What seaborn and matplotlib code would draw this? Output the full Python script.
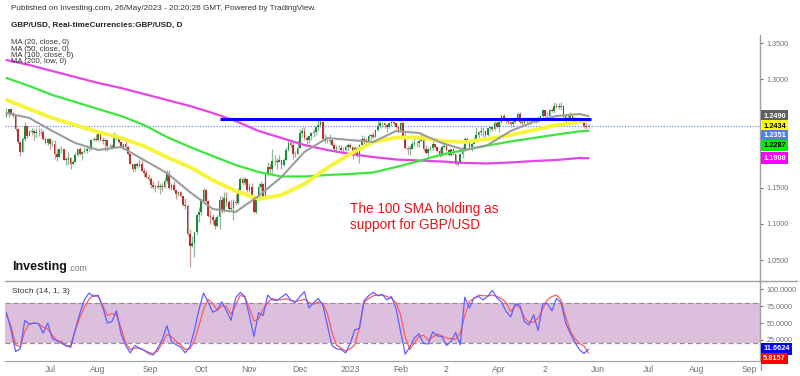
import numpy as np
import pandas as pd
import matplotlib
matplotlib.use('Agg')
import matplotlib.pyplot as plt
import seaborn as sns

# --- data (GBP/USD daily, 06/Jun/2022 - 26/May/2023) ---
first_open = 1.2490
closes = [
    # Jun 2022
    1.2530, 1.2585, 1.2535, 1.2490, 1.2310, 1.2130, 1.2000, 1.2180, 1.2350, 1.2220,
    1.2265, 1.2280, 1.2260, 1.2275, 1.2265, 1.2270, 1.2175, 1.2120, 1.2175,
    # Jul
    1.2100, 1.2110, 1.1960, 1.1930, 1.2030, 1.2030, 1.1890, 1.1890, 1.1915, 1.1825,
    1.1860, 1.1955, 1.2030, 1.1970, 1.1990, 1.2005, 1.2030, 1.2030, 1.2165, 1.2180, 1.2165,
    # Aug
    1.2245, 1.2165, 1.2150, 1.2155, 1.2075, 1.2080, 1.2070, 1.2210, 1.2210, 1.2130,
    1.2055, 1.2100, 1.2065, 1.1960, 1.1830, 1.1765, 1.1830, 1.1800, 1.1830, 1.1735,
    1.1700, 1.1650, 1.1620,
    # Sep
    1.1540, 1.1510, 1.1525, 1.1515, 1.1530, 1.1505, 1.1590, 1.1685, 1.1500, 1.1540,
    1.1470, 1.1420, 1.1440, 1.1380, 1.1265, 1.1255, 1.0860, 1.0690, 1.0735, 1.0885,
    1.1120, 1.1170,
    # Oct
    1.1320, 1.1470, 1.1320, 1.1105, 1.1090, 1.1060, 1.0970, 1.1095, 1.1330, 1.1175,
    1.1360, 1.1310, 1.1205, 1.1225, 1.1310, 1.1285, 1.1475, 1.1620, 1.1570, 1.1615, 1.1465,
    # Nov
    1.1510, 1.1390, 1.1160, 1.1380, 1.1510, 1.1550, 1.1350, 1.1710, 1.1790, 1.1760,
    1.1865, 1.1870, 1.1860, 1.1890, 1.1820, 1.1890, 1.2025, 1.2115, 1.2090, 1.1960,
    1.1965, 1.2050,
    # Dec
    1.2250, 1.2285, 1.2190, 1.2160, 1.2210, 1.2250, 1.2265, 1.2340, 1.2370, 1.2415,
    1.2180, 1.2140, 1.2150, 1.2155, 1.2090, 1.2040, 1.2050, 1.2055, 1.2020, 1.2025,
    1.2060, 1.2095,
    # Jan 2023
    1.2060, 1.1970, 1.2055, 1.1935, 1.2090, 1.2180, 1.2155, 1.2150, 1.2220, 1.2230,
    1.2200, 1.2300, 1.2350, 1.2390, 1.2395, 1.2370, 1.2340, 1.2400, 1.2405, 1.2395,
    1.2340, 1.2305,
    # Feb
    1.2390, 1.2220, 1.2050, 1.2040, 1.2040, 1.2100, 1.2120, 1.2115, 1.2150, 1.2175,
    1.2040, 1.1980, 1.2030, 1.2050, 1.2100, 1.2060, 1.2010, 1.1945, 1.2060, 1.2080,
    # Mar
    1.2020, 1.1950, 1.2030, 1.1960, 1.1830, 1.1840, 1.1960, 1.2030, 1.2170, 1.2150,
    1.2060, 1.2110, 1.2175, 1.2230, 1.2270, 1.2280, 1.2280, 1.2230, 1.2320, 1.2335,
    1.2310, 1.2390, 1.2335,
    # Apr
    1.2410, 1.2495, 1.2460, 1.2440, 1.2410, 1.2380, 1.2415, 1.2460, 1.2520, 1.2410,
    1.2390, 1.2430, 1.2450, 1.2440, 1.2440, 1.2470, 1.2420, 1.2465, 1.2490, 1.2570,
    # May
    1.2490, 1.2490, 1.2570, 1.2565, 1.2630, 1.2620, 1.2620, 1.2630, 1.2485, 1.2455,
    1.2470, 1.2490, 1.2435, 1.2420, 1.2445, 1.2420, 1.2410, 1.2360, 1.2345, 1.2351,
]
highs = [
    1.2600, 1.2595, 1.2600, 1.2550, 1.2500, 1.2330, 1.2130, 1.2200, 1.2405, 1.2360,
    1.2300, 1.2325, 1.2315, 1.2325, 1.2325, 1.2330, 1.2295, 1.2195, 1.2190,
    1.2190, 1.2160, 1.2165, 1.2030, 1.2050, 1.2080, 1.2030, 1.1925, 1.2000, 1.1930,
    1.1880, 1.1990, 1.2040, 1.2060, 1.2010, 1.2060, 1.2065, 1.2070, 1.2180, 1.2200, 1.2245,
    1.2290, 1.2250, 1.2200, 1.2190, 1.2165, 1.2115, 1.2110, 1.2275, 1.2240, 1.2215,
    1.2120, 1.2125, 1.2145, 1.2075, 1.1965, 1.1825, 1.1840, 1.1850, 1.1900, 1.1900,
    1.1780, 1.1750, 1.1690,
    1.1645, 1.1600, 1.1545, 1.1610, 1.1560, 1.1560, 1.1650, 1.1740, 1.1740, 1.1565,
    1.1590, 1.1475, 1.1460, 1.1460, 1.1390, 1.1355, 1.1275, 1.0935, 1.0830, 1.0890,
    1.1140, 1.1240,
    1.1365, 1.1495, 1.1490, 1.1335, 1.1200, 1.1140, 1.1100, 1.1130, 1.1380, 1.1380,
    1.1440, 1.1440, 1.1335, 1.1335, 1.1340, 1.1410, 1.1500, 1.1645, 1.1645, 1.1650, 1.1620,
    1.1560, 1.1565, 1.1400, 1.1390, 1.1565, 1.1600, 1.1560, 1.1725, 1.1855, 1.1840,
    1.2030, 1.1950, 1.1910, 1.1950, 1.1890, 1.1905, 1.2060, 1.2155, 1.2150, 1.2130,
    1.2010, 1.2155,
    1.2310, 1.2345, 1.2345, 1.2210, 1.2230, 1.2275, 1.2315, 1.2345, 1.2445, 1.2446,
    1.2425, 1.2240, 1.2195, 1.2240, 1.2160, 1.2115, 1.2090, 1.2085, 1.2090, 1.2070,
    1.2090, 1.2125,
    1.2125, 1.2080, 1.2080, 1.2070, 1.2110, 1.2230, 1.2210, 1.2190, 1.2245, 1.2245,
    1.2265, 1.2310, 1.2435, 1.2420, 1.2405, 1.2400, 1.2385, 1.2410, 1.2420, 1.2415,
    1.2395, 1.2350,
    1.2420, 1.2410, 1.2265, 1.2075, 1.2090, 1.2150, 1.2195, 1.2145, 1.2165, 1.2270,
    1.2180, 1.2085, 1.2045, 1.2075, 1.2145, 1.2110, 1.2075, 1.2045, 1.2095, 1.2145,
    1.2100, 1.2035, 1.2040, 1.2040, 1.1960, 1.1865, 1.1975, 1.2075, 1.2205, 1.2205,
    1.2165, 1.2120, 1.2200, 1.2345, 1.2290, 1.2345, 1.2345, 1.2290, 1.2330, 1.2345,
    1.2345, 1.2420, 1.2425,
    1.2425, 1.2525, 1.2525, 1.2475, 1.2440, 1.2420, 1.2430, 1.2475, 1.2545, 1.2545,
    1.2445, 1.2475, 1.2475, 1.2470, 1.2475, 1.2475, 1.2480, 1.2485, 1.2500, 1.2585,
    1.2580, 1.2545, 1.2590, 1.2600, 1.2680, 1.2665, 1.2665, 1.2680, 1.2640, 1.2495,
    1.2510, 1.2545, 1.2490, 1.2475, 1.2470, 1.2470, 1.2445, 1.2405, 1.2390, 1.2375,
]
lows = [
    1.2480, 1.2475, 1.2505, 1.2470, 1.2290, 1.2100, 1.1935, 1.1990, 1.2140, 1.2185,
    1.2210, 1.2235, 1.2160, 1.2200, 1.2215, 1.2230, 1.2160, 1.2100, 1.2090,
    1.2030, 1.2080, 1.1900, 1.1875, 1.1930, 1.1980, 1.1880, 1.1810, 1.1820, 1.1760,
    1.1825, 1.1860, 1.1940, 1.1950, 1.1890, 1.1985, 1.1975, 1.2005, 1.2020, 1.2140, 1.2140,
    1.2150, 1.2140, 1.2100, 1.2005, 1.2005, 1.2060, 1.2045, 1.2060, 1.2160, 1.2115,
    1.2045, 1.2030, 1.2050, 1.1950, 1.1825, 1.1720, 1.1730, 1.1780, 1.1790, 1.1730,
    1.1650, 1.1640, 1.1600,
    1.1500, 1.1490, 1.1445, 1.1490, 1.1410, 1.1460, 1.1500, 1.1570, 1.1490, 1.1465,
    1.1460, 1.1350, 1.1380, 1.1370, 1.1255, 1.1210, 1.0840, 1.0400, 1.0680, 1.0540,
    1.0850, 1.1030,
    1.1120, 1.1290, 1.1300, 1.1100, 1.1000, 1.1000, 1.0925, 1.0960, 1.0925, 1.1150,
    1.1160, 1.1250, 1.1195, 1.1200, 1.1060, 1.1260, 1.1275, 1.1465, 1.1540, 1.1540, 1.1440,
    1.1440, 1.1375, 1.1150, 1.1145, 1.1330, 1.1460, 1.1340, 1.1340, 1.1660, 1.1710,
    1.1700, 1.1820, 1.1765, 1.1850, 1.1765, 1.1800, 1.1880, 1.2010, 1.2070, 1.1900,
    1.1925, 1.1960,
    1.2045, 1.2200, 1.2155, 1.2105, 1.2125, 1.2160, 1.2200, 1.2225, 1.2290, 1.2345,
    1.2160, 1.2115, 1.2125, 1.2110, 1.2080, 1.2015, 1.2000, 1.2040, 1.2010, 1.1990,
    1.2005, 1.2015,
    1.2040, 1.1900, 1.1990, 1.1925, 1.1840, 1.2085, 1.2110, 1.2100, 1.2125, 1.2180,
    1.2185, 1.2195, 1.2280, 1.2320, 1.2345, 1.2325, 1.2265, 1.2325, 1.2360, 1.2370,
    1.2325, 1.2260,
    1.2285, 1.2215, 1.2035, 1.1960, 1.1955, 1.2030, 1.2075, 1.2070, 1.2065, 1.2145,
    1.2015, 1.1970, 1.1915, 1.2015, 1.2020, 1.2050, 1.1995, 1.1925, 1.1935, 1.2050,
    1.2005, 1.1935, 1.1940, 1.1950, 1.1820, 1.1800, 1.1835, 1.1910, 1.2010, 1.2130,
    1.2035, 1.2010, 1.2100, 1.2210, 1.2190, 1.2230, 1.2195, 1.2205, 1.2210, 1.2285,
    1.2285, 1.2300, 1.2325,
    1.2275, 1.2390, 1.2435, 1.2395, 1.2380, 1.2345, 1.2345, 1.2400, 1.2450, 1.2380,
    1.2345, 1.2385, 1.2400, 1.2400, 1.2380, 1.2420, 1.2395, 1.2410, 1.2430, 1.2465,
    1.2470, 1.2440, 1.2475, 1.2545, 1.2540, 1.2600, 1.2590, 1.2590, 1.2465, 1.2390,
    1.2440, 1.2445, 1.2420, 1.2390, 1.2395, 1.2415, 1.2395, 1.2320, 1.2310, 1.2325,
]

# moving averages, read every 10 sessions (last point = 26/May)
ma_sessions = list(range(0, 251, 10)) + [254]
ma20 = [1.2533, 1.2464, 1.2285, 1.2119, 1.2022, 1.2064, 1.1884, 1.1704, 1.1442, 1.1207,
        1.1166, 1.1387, 1.1649, 1.1995, 1.2188, 1.2160, 1.2133, 1.2285, 1.2257, 1.2119,
        1.2022, 1.2091, 1.2285, 1.2409, 1.2492, 1.2519, 1.2490]
ma50 = [1.2713, 1.2588, 1.2464, 1.2367, 1.2271, 1.2188, 1.2077, 1.1925, 1.1787, 1.1608,
        1.1456, 1.1345, 1.1401, 1.1553, 1.1774, 1.1967, 1.2133, 1.2195, 1.2195, 1.2146,
        1.2133, 1.2174, 1.2229, 1.2298, 1.2367, 1.2409, 1.2434]
ma100 = [1.3017, 1.2906, 1.2782, 1.2685, 1.2588, 1.2492, 1.2367, 1.2202, 1.2064, 1.1939,
         1.1815, 1.1718, 1.1656, 1.1656, 1.1677, 1.1691, 1.1711, 1.1787, 1.1870, 1.1960,
         1.2022, 1.2084, 1.2140, 1.2188, 1.2236, 1.2280, 1.2287]
ma200_low = [1.3265, 1.3196, 1.3113, 1.3030, 1.2948, 1.2878, 1.2796, 1.2713, 1.2630, 1.2533,
             1.2423, 1.2285, 1.2188, 1.2091, 1.2022, 1.1967, 1.1925, 1.1891, 1.1877, 1.1863,
             1.1843, 1.1836, 1.1850, 1.1870, 1.1884, 1.1912, 1.1908]

# stochastic (14, 1, 3), read every 2 sessions
stoch_sessions = list(range(0, 255, 2))
stoch_k = [65, 40, 8, 12, 54, 48, 50, 49, 35, 50,
           27, 24, 20, 17, 14, 40, 64, 84, 94, 89,
           91, 73, 50, 52, 68, 34, 17, 6, 17, 13,
           10, 5, 3, 13, 26, 46, 23, 18, 15, 6,
           15, 39, 70, 94, 81, 66, 69, 81, 68, 54,
           87, 95, 89, 61, 30, 65, 61, 91, 84, 83,
           88, 93, 84,
           80, 89, 96, 72, 80, 86, 77, 47, 17, 12,
           11, 6, 20, 40, 42, 83, 90, 95, 90, 92,
           84, 89, 71, 37, 4, 15, 28, 34, 20, 19,
           37, 31, 30, 17, 23, 36, 18, 88, 72, 87,
           89, 84, 89, 98, 87, 81, 67, 59, 78, 76,
           52, 47, 62, 39, 78, 79, 68, 86, 80, 50,
           35, 22, 11, 5, 11.6624]
stoch_d = [62, 45, 18, 15, 38, 49, 50, 49, 44, 41,
           32, 24, 23, 16, 17, 39, 58, 73, 85, 91,
           89, 76, 61, 64, 61, 43, 21, 11, 13, 13,
           10, 7, 5, 9, 21, 33, 30, 23, 18, 11,
           12, 24, 46, 70, 85, 79, 69, 75, 74, 63,
           76, 91, 88, 72, 53, 56, 70, 80, 86, 84,
           84, 86, 83,
           82, 83, 85, 80, 78, 81, 79, 64, 37, 18,
           13, 9, 12, 18, 43, 80, 86, 90, 91, 91,
           89, 86, 80, 62, 29, 11, 21, 30, 32, 25,
           29, 34, 31, 28, 27, 26, 35, 61, 82, 86,
           91, 90, 90, 91, 89, 86, 80, 67, 76, 73,
           58, 51, 51, 57, 71, 84, 89, 91, 84, 59,
           39, 27, 20, 16, 5.8157]

resistance = 1.2455
resistance_from, resistance_to = '2022-10-13', '2023-05-29'
price_ticks = [1.05, 1.10, 1.15, 1.20, 1.25, 1.30, 1.35]
hidden_ticks = [1.20, 1.25]   # covered by the value boxes on the original
stoch_ticks = [25, 50, 75, 100]
month_labels = ['Jul', 'Aug', 'Sep', 'Oct', 'Nov', 'Dec', '2023', 'Feb', '2',
                'Apr', '2', 'Jun', 'Jul', 'Aug', 'Sep']
ma_legend = ['MA (20, close, 0)', 'MA (50, close, 0)', 'MA (100, close, 0)', 'MA (200, low, 0)']

# --- frame ---
sns.set_style('white')
plt.rcParams['font.family'] = ['Liberation Sans', 'DejaVu Sans']

W, H = 800, 376
fig = plt.figure(figsize=(W / 100, H / 100), dpi=100)
fig.patch.set_facecolor('white')

dates = pd.bdate_range('2022-06-06', '2023-05-26')
axis_days = pd.bdate_range('2022-06-06', '2023-09-29')
df = pd.DataFrame({'date': dates, 'close': closes, 'high': highs, 'low': lows})
df['open'] = [first_open] + closes[:-1]
df['n'] = np.arange(len(df))
up = df[df['close'] >= df['open']]
dn = df[df['close'] < df['open']]


def px_to_fig(y):
    return 1 - y / H


ax = fig.add_axes([5 / W, px_to_fig(281), 755 / W, 246 / H])
axs = fig.add_axes([5 / W, px_to_fig(361), 755 / W, 80 / H])

xlim = (-0.64, 328.8)
for a in (ax, axs):
    a.set_xlim(*xlim)
    a.set_facecolor('none')
    for s in ['top', 'left', 'bottom']:
        a.spines[s].set_visible(False)
    a.spines['right'].set_color('#a0a0a0')
    a.spines['right'].set_linewidth(1)
    a.yaxis.tick_right()
    a.tick_params(axis='y', labelsize=5.2, colors='#707070', length=2.5, pad=2, width=0.8)

ax.set_ylim(1.02127, 1.36105)

# current price line
ax.axhline(closes[-1], color='#5a7ee6', lw=0.8, ls=(0, (1, 1.5)))

# candles
wick = 0.9
ax.vlines(up['n'], up['low'], up['high'], color='#8fb89a', lw=wick, zorder=2)
ax.vlines(dn['n'], dn['low'], dn['high'], color='#c49a96', lw=wick, zorder=2)
ax.bar(up['n'], (up['close'] - up['open']).clip(lower=0.0004), bottom=up['open'],
       width=0.72, color='#1c8a3c', zorder=3, linewidth=0)
ax.bar(dn['n'], (dn['open'] - dn['close']).clip(lower=0.0004), bottom=dn['close'],
       width=0.72, color='#b8322c', zorder=3, linewidth=0)

# moving averages
ma_df = pd.DataFrame({'n': ma_sessions, 'ma20': ma20, 'ma50': ma50,
                      'ma100': ma100, 'ma200': ma200_low})
sns.lineplot(data=ma_df, x='n', y='ma200', ax=ax, color='#e645e6', lw=1.6, zorder=4)
sns.lineplot(data=ma_df, x='n', y='ma100', ax=ax, color='#3de63d', lw=1.6, zorder=4)
sns.lineplot(data=ma_df, x='n', y='ma50', ax=ax, color='#f5f53a', lw=2.8, zorder=4)
sns.lineplot(data=ma_df, x='n', y='ma20', ax=ax, color='#9c9c9c', lw=1.5, zorder=5)

# resistance line
r0 = dates.get_indexer([pd.Timestamp(resistance_from)], method='nearest')[0]
r1 = axis_days.get_indexer([pd.Timestamp(resistance_to)])[0]
ax.hlines(resistance, r0, r1, color='#0000ff', lw=2.2, zorder=6)

ax.set_yticks(price_ticks)
ax.set_yticklabels(['' if v in hidden_ticks else f'{v:.4f}' for v in price_ticks])
ax.set_xticks([])
ax.set_xlabel('')
ax.set_ylabel('')

# stochastic panel
axs.set_ylim(-5.9, 111.8)
axs.axhspan(20, 80, color='#dcbfdc', lw=0, zorder=0)
axs.axhline(80, color='#9a8a9a', lw=0.9, ls=(0, (4, 2.5)), zorder=1)
axs.axhline(20, color='#9a8a9a', lw=0.9, ls=(0, (4, 2.5)), zorder=1)
st_df = pd.DataFrame({'n': stoch_sessions, 'k': stoch_k, 'd': stoch_d})
sns.lineplot(data=st_df, x='n', y='d', ax=axs, color='#ff5a5a', lw=0.9, zorder=3)
sns.lineplot(data=st_df, x='n', y='k', ax=axs, color='#6060ff', lw=0.9, zorder=4)
axs.set_yticks(stoch_ticks)
axs.set_yticklabels([f'{v:.4f}' for v in stoch_ticks])
axs.spines['bottom'].set_visible(True)
axs.spines['bottom'].set_color('#a0a0a0')
month_pos = [i for i in range(1, len(axis_days))
             if axis_days[i].month != axis_days[i - 1].month]
axs.set_xticks(month_pos)
axs.set_xticklabels(month_labels)
axs.tick_params(axis='x', labelsize=6.2, colors='#707070', length=0, pad=3)
axs.set_xlabel('')
axs.set_ylabel('')
axs.text(0.009, 0.87, 'Stoch (14, 1, 3)', transform=axs.transAxes, fontsize=6,
         color='#333333', va='center')

# separator line between panels, and the price scale line running past the bottom
fig.add_artist(plt.Line2D([5 / W, 797 / W], [px_to_fig(281)] * 2, color='#a0a0a0', lw=1))
fig.add_artist(plt.Line2D([760.5 / W] * 2, [px_to_fig(361), px_to_fig(370)], color='#a0a0a0', lw=1))

# header
fig.text(11 / W, px_to_fig(9), 'Published on Investing.com, 26/May/2023 - 20:20:26 GMT, Powered by TradingView.',
         fontsize=5.9, color='#333333', va='center')
fig.text(11 / W, px_to_fig(25), 'GBP/USD, Real-timeCurrencies:GBP/USD, D',
         fontsize=5.9, color='#222222', va='center', fontweight='bold')
for j, s in enumerate(ma_legend):
    fig.text(11 / W, px_to_fig(43 + j * 6.2), s, fontsize=5.6, color='#333333', va='center')

# logo
fig.text(12 / W, px_to_fig(267), 'Investing', fontsize=9, fontweight='bold',
         color='#111111', va='center')
fig.text(68 / W, px_to_fig(268.5), '.com', fontsize=6.2, color='#777777', va='center')

# annotation
fig.text(350 / W, px_to_fig(217), 'The 100 SMA holding as\nsupport for GBP/USD',
         fontsize=9.8, color='#e8141c', va='center', linespacing=1.2)

# value boxes on the price scale
boxes = [(116, f'{ma20[-1]:.4f}', '#606060', 'white'),
         (126, f'{ma50[-1]:.4f}', '#ffff00', 'black'),
         (135.7, f'{closes[-1]:.4f}', '#4f7fe8', 'white'),
         (145.3, f'{ma100[-1]:.4f}', '#00ee00', 'black'),
         (158, f'{ma200_low[-1]:.4f}', '#ff00ff', 'white'),
         (349, f'{stoch_k[-1]:.4f}', '#0000ff', 'white'),
         (358.5, f'{stoch_d[-1]:.4f}', '#ff0000', 'white')]
for y, s, bg, fg in boxes:
    fig.text(763 / W, px_to_fig(y), s, fontsize=5.3, color=fg, va='center', fontweight='bold',
             bbox=dict(boxstyle='square,pad=0.3', fc=bg, ec='none'))

fig.savefig('out.png', dpi=100, facecolor='white')
